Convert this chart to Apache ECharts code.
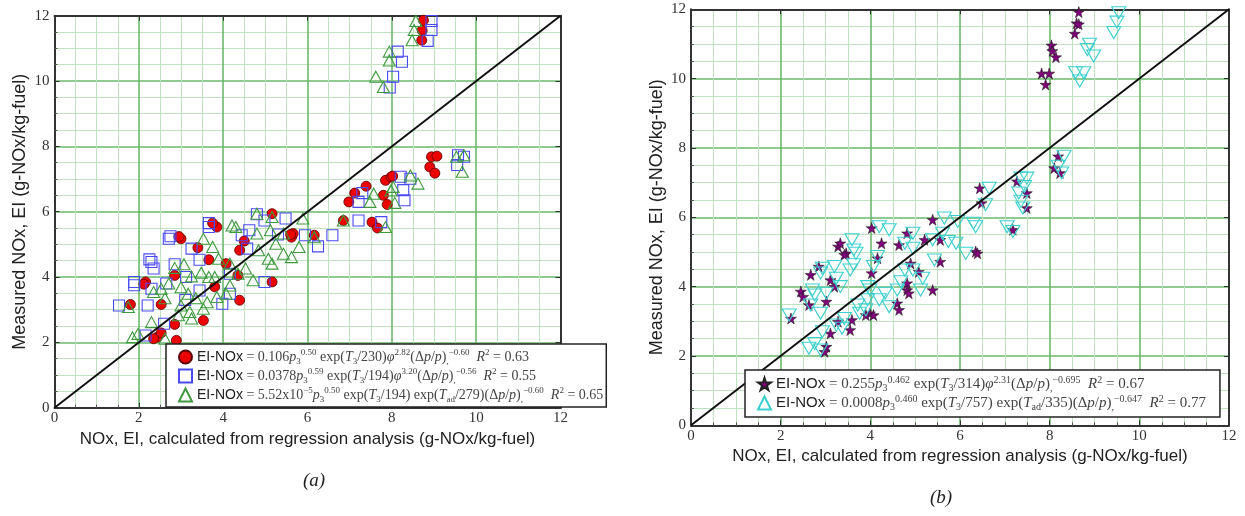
<!DOCTYPE html>
<html lang="en" style="height: 100%">
<head>
  <meta charset="utf-8">
</head>
<body style="height: 100%; margin: 0; background: #fff">
  <div id="container" style="width: 1245px; height: 516px"></div>

  <script type="text/javascript" src="https://cdn.jsdelivr.net/npm/echarts/dist/echarts.min.js"></script>
  <script type="text/javascript">
    // panel (a): measured vs regression EI-NOx, three fits
    const redCircles = [
      [8.75, 11.86], [8.71, 11.25], [8.72, 11.55], [8.94, 7.68], [9.07, 7.7], [8.9, 7.37], [9.02, 7.18],
      [7.85, 6.96], [7.98, 7.06], [8.02, 7.09], [7.39, 6.78], [7.12, 6.57], [6.98, 6.3], [7.8, 6.5],
      [7.89, 6.22], [7.53, 5.68], [7.66, 5.5], [6.85, 5.73], [5.16, 5.94], [5.62, 5.22], [5.66, 5.33],
      [6.16, 5.28], [4.39, 4.82], [3.85, 5.53], [3.75, 5.65], [3.0, 5.17], [2.95, 5.24], [3.66, 4.53],
      [4.07, 4.41], [4.35, 4.05], [5.16, 3.85], [4.39, 3.29], [2.85, 4.05], [2.16, 3.85], [2.12, 3.78],
      [1.8, 3.16], [2.53, 3.16], [2.85, 2.55], [3.53, 2.67], [2.44, 2.16], [2.53, 2.29], [2.89, 2.06],
      [2.35, 2.11], [3.8, 3.7], [3.4, 4.9], [5.6, 5.3], [4.5, 5.1]
    ];
    const blueSquares = [
      [8.94, 11.84], [8.94, 11.56], [8.85, 11.23], [8.14, 10.9], [8.24, 10.59], [8.03, 10.13], [7.95, 9.8],
      [9.57, 7.73], [9.71, 7.68], [9.55, 7.43], [8.21, 7.07], [8.44, 7.01], [8.27, 6.66], [8.3, 6.35],
      [7.3, 6.57], [7.21, 6.3], [7.21, 5.73], [7.75, 5.68], [6.59, 5.28], [6.25, 4.94], [5.94, 5.28],
      [5.48, 5.79], [4.8, 5.92], [4.62, 5.43], [4.44, 5.28], [4.57, 4.87], [4.98, 3.85], [3.66, 5.65],
      [3.66, 5.53], [2.71, 5.17], [2.75, 5.25], [3.25, 4.87], [3.44, 4.53], [2.3, 4.46], [2.35, 4.26],
      [2.25, 4.54], [1.89, 3.85], [1.89, 3.75], [1.53, 3.13], [2.21, 3.13], [2.6, 2.57], [2.16, 2.21],
      [4.16, 4.1], [2.85, 4.39], [3.12, 4.0], [2.3, 3.64], [3.44, 3.59], [3.98, 3.18], [4.16, 3.49],
      [4.98, 5.73], [5.3, 5.3], [2.65, 3.8], [3.1, 3.3]
    ];
    const greenTriangles = [
      [8.57, 11.84], [8.53, 11.56], [8.48, 11.25], [7.94, 10.9], [7.94, 10.63], [7.62, 10.13], [7.8, 9.82],
      [9.53, 7.68], [9.71, 7.73], [9.67, 7.22], [8.44, 7.11], [8.62, 6.86], [8.03, 6.76], [7.57, 6.55],
      [7.48, 6.3], [8.07, 6.27], [7.98, 6.65], [6.85, 5.73], [7.85, 5.53], [5.89, 5.79], [6.16, 5.22],
      [5.16, 5.84], [5.12, 5.43], [4.8, 5.94], [4.8, 5.33], [4.84, 4.82], [5.07, 4.56], [5.43, 4.71],
      [5.62, 4.61], [5.8, 4.92], [5.43, 5.33], [5.25, 5.02], [4.21, 5.58], [4.3, 5.53], [3.53, 5.17],
      [3.75, 4.92], [3.89, 4.56], [4.16, 4.41], [4.35, 4.1], [4.53, 4.26], [4.71, 3.9], [5.16, 4.41],
      [3.07, 4.39], [2.85, 4.28], [3.25, 4.02], [3.48, 4.13], [3.66, 4.0], [2.71, 3.8], [2.53, 3.64],
      [2.35, 3.54], [2.62, 3.35], [3.0, 3.69], [3.17, 3.49], [3.35, 3.35], [3.62, 3.23], [3.85, 3.39],
      [4.07, 3.49], [4.16, 3.74], [3.8, 4.0], [3.0, 3.13], [3.21, 2.93], [2.94, 2.83], [3.25, 2.73],
      [3.53, 3.03], [1.75, 3.08], [2.3, 2.62], [1.85, 2.16], [1.98, 2.26], [2.62, 2.11]
    ];

    // panel (b): two further fits
    const purpleStars = [
      [8.65, 11.92], [8.6, 11.6], [8.65, 11.57], [8.56, 11.3], [8.04, 10.96], [8.06, 10.8], [8.14, 10.62],
      [7.82, 10.15], [7.99, 10.15], [7.91, 9.83], [8.19, 7.76], [8.1, 7.42], [8.23, 7.28], [7.27, 7.04],
      [7.49, 6.7], [7.49, 6.27], [6.44, 6.84], [6.48, 6.41], [7.18, 5.64], [5.39, 5.93], [5.56, 5.35],
      [5.56, 4.72], [5.39, 3.9], [6.35, 5.01], [6.39, 4.96], [5.21, 5.35], [4.03, 5.69], [4.16, 4.82],
      [4.25, 5.25], [4.64, 5.2], [4.82, 5.54], [4.9, 4.67], [5.08, 4.43], [4.03, 4.39], [3.99, 3.23],
      [4.07, 3.18], [4.6, 3.52], [4.64, 3.33], [4.82, 3.9], [4.82, 4.1], [4.86, 3.81], [3.28, 5.16],
      [3.33, 5.25], [3.46, 4.96], [3.42, 4.92], [2.85, 4.58], [2.67, 4.34], [2.45, 3.86], [2.5, 3.71],
      [3.11, 4.19], [3.2, 4.0], [2.63, 3.47], [3.02, 3.57], [3.28, 2.99], [3.59, 3.04], [3.55, 2.75],
      [3.11, 2.65], [3.02, 2.27], [2.98, 2.12], [2.23, 3.08], [3.9, 3.18]
    ];
    const cyanTriangles = [
      [9.54, 11.9], [9.5, 11.63], [9.43, 11.33], [8.89, 10.99], [8.84, 10.84], [8.98, 10.65], [8.58, 10.17],
      [8.76, 10.17], [8.67, 9.93], [8.32, 7.76], [8.19, 7.47], [8.27, 7.28], [7.36, 7.13], [7.49, 7.13],
      [7.44, 6.89], [7.31, 6.7], [7.36, 6.46], [7.4, 6.27], [6.65, 6.84], [6.57, 6.36], [7.05, 5.73],
      [7.18, 5.59], [6.3, 5.83], [6.35, 5.73], [5.65, 5.98], [5.95, 5.88], [5.61, 5.54], [5.74, 5.3],
      [5.91, 5.25], [6.13, 4.96], [5.39, 5.35], [5.43, 4.77], [4.95, 5.54], [4.77, 5.25], [4.95, 5.11],
      [4.42, 5.64], [4.2, 5.73], [4.16, 4.87], [4.07, 4.58], [4.95, 4.48], [5.17, 4.24], [5.12, 3.9],
      [4.77, 4.48], [4.68, 4.14], [4.6, 3.9], [4.33, 3.81], [4.2, 3.62], [4.42, 3.42], [3.99, 3.9],
      [3.94, 3.62], [3.9, 3.33], [3.72, 3.47], [3.76, 3.23], [3.94, 4.0], [3.59, 5.35], [3.63, 5.06],
      [3.68, 4.96], [3.63, 4.63], [3.55, 4.48], [3.2, 4.58], [2.93, 4.53], [2.89, 4.39], [3.24, 4.24],
      [3.33, 4.0], [3.02, 3.81], [2.71, 3.9], [2.76, 3.76], [2.67, 3.47], [2.89, 3.23], [3.24, 2.89],
      [3.37, 2.8], [3.42, 3.08], [2.93, 2.7], [2.76, 2.36], [2.63, 2.22], [2.89, 2.17], [2.19, 3.18]
    ];
    const diagonal = [[0, 0], [12, 12]];
    const axisTicks = [0, 12, 2];

    const legendLabels = {
      a1: '{s|EI-NOx}{r| = 0.106}{it|p}{sb|3}{sp|0.50}{r| exp(}{it|T}{sb|3}{r|/230)}{it|φ}{sp|2.82}{r|(Δ}{it|p}{r|/}{it|p}{r|)}{sb|,}{sp|−0.60}{r|  }{it|R}{sp|2}{r| = 0.63}',
      a2: '{s|EI-NOx}{r| = 0.0378}{it|p}{sb|3}{sp|0.59}{r| exp(}{it|T}{sb|3}{r|/194)}{it|φ}{sp|3.20}{r|(Δ}{it|p}{r|/}{it|p}{r|)}{sb|,}{sp|−0.56}{r|  }{it|R}{sp|2}{r| = 0.55}',
      a3: '{s|EI-NOx}{r| = 5.52x10}{sp|−5}{it|p}{sb|3}{sp|0.50}{r| exp(}{it|T}{sb|3}{r|/194) exp(}{it|T}{sb|ad}{r|/279)(Δ}{it|p}{r|/}{it|p}{r|)}{sb|,}{sp|−0.60}{r|  }{it|R}{sp|2}{r| = 0.65}',
      b1: '{S|EI-NOx}{R| = 0.255}{I|p}{B|3}{P|0.462}{R| exp(}{I|T}{B|3}{R|/314)}{I|φ}{P|2.31}{R|(Δ}{I|p}{R|/}{I|p}{R|)}{B|,}{P|−0.695}{R|  }{I|R}{P|2}{R| = 0.67}',
      b2: '{S|EI-NOx}{R| = 0.0008}{I|p}{B|3}{P|0.460}{R| exp(}{I|T}{B|3}{R|/757) exp(}{I|T}{B|ad}{R|/335)(Δ}{I|p}{R|/}{I|p}{R|)}{B|,}{P|−0.647}{R|  }{I|R}{P|2}{R| = 0.77}'
    };

    const starPath = 'path://M50,0 L61,35 L98,35 L68,57 L79,91 L50,70 L21,91 L32,57 L2,35 L39,35 Z';
    const serif = 'Liberation Serif';
    const sans = 'Liberation Sans';

    const richText = {
      // left legend, a bit smaller
      s: { fontFamily: sans, fontSize: 14, color: '#222', lineHeight: 18, verticalAlign: 'middle' },
      r: { fontFamily: serif, fontSize: 14, color: '#444', lineHeight: 18, verticalAlign: 'middle' },
      it: { fontFamily: serif, fontSize: 14, fontStyle: 'italic', color: '#444', lineHeight: 18, verticalAlign: 'middle' },
      sp: { fontFamily: serif, fontSize: 9, color: '#444', lineHeight: 18, verticalAlign: 'top', padding: [0, 0, 7, 0] },
      sb: { fontFamily: serif, fontSize: 9, color: '#444', lineHeight: 18, verticalAlign: 'bottom', padding: [6, 0, 0, 0] },
      // right legend
      S: { fontFamily: sans, fontSize: 15, color: '#222', lineHeight: 18, verticalAlign: 'middle' },
      R: { fontFamily: serif, fontSize: 15, color: '#444', lineHeight: 18, verticalAlign: 'middle' },
      I: { fontFamily: serif, fontSize: 15, fontStyle: 'italic', color: '#444', lineHeight: 18, verticalAlign: 'middle' },
      P: { fontFamily: serif, fontSize: 10, color: '#444', lineHeight: 18, verticalAlign: 'top', padding: [0, 0, 7, 0] },
      B: { fontFamily: serif, fontSize: 10, color: '#444', lineHeight: 18, verticalAlign: 'bottom', padding: [6, 0, 0, 0] }
    };

    var dom = document.getElementById('container');
    var myChart = echarts.init(dom, null, { renderer: 'canvas' });

    const mainX = (gridIndex) => ({
      type: 'value',
      gridIndex,
      min: axisTicks[0],
      max: axisTicks[1],
      interval: axisTicks[2],
      name: 'NOx, EI, calculated from regression analysis (g-NOx/kg-fuel)',
      nameLocation: 'middle',
      nameGap: 14,
      nameTextStyle: { fontFamily: sans, fontSize: 17, color: '#222' },
      axisLine: { show: true, onZero: false, lineStyle: { color: '#333', width: 2 } },
      axisTick: { show: true, inside: true, length: 5, lineStyle: { color: '#333' } },
      minorTick: { show: true, splitNumber: 4, length: 3, lineStyle: { color: '#555' } },
      axisLabel: { fontFamily: serif, fontSize: 15, color: '#333', margin: 3 },
      splitLine: { show: true, lineStyle: { color: '#6cb86c', width: 1.6 } },
      minorSplitLine: { show: true, lineStyle: { color: '#bfe3bf', width: 1 } }
    });
    const mainY = (gridIndex) => ({
      type: 'value',
      gridIndex,
      min: axisTicks[0],
      max: axisTicks[1],
      interval: axisTicks[2],
      name: 'Measured NOx, EI (g-NOx/kg-fuel)',
      nameLocation: 'middle',
      nameRotate: 90,
      nameGap: 25,
      nameTextStyle: { fontFamily: sans, fontSize: 18, color: '#222' },
      axisLine: { show: true, onZero: false, lineStyle: { color: '#333', width: 2 } },
      axisTick: { show: true, inside: true, length: 5, lineStyle: { color: '#333' } },
      minorTick: { show: true, splitNumber: 4, length: 3, lineStyle: { color: '#555' } },
      axisLabel: { fontFamily: serif, fontSize: 15, color: '#333', margin: 5 },
      splitLine: { show: true, lineStyle: { color: '#6cb86c', width: 1.6 } },
      minorSplitLine: { show: true, lineStyle: { color: '#bfe3bf', width: 1 } }
    });
    // top / right frame edges
    const frame = (gridIndex, position) => ({
      type: 'value',
      gridIndex,
      position,
      min: axisTicks[0],
      max: axisTicks[1],
      interval: axisTicks[2],
      axisLine: { show: true, onZero: false, lineStyle: { color: '#333', width: 2 } },
      axisTick: { show: true, inside: true, length: 5, lineStyle: { color: '#333' } },
      axisLabel: { show: false },
      splitLine: { show: false }
    });

    const diagSeries = (idx) => ({
      type: 'line',
      xAxisIndex: idx,
      yAxisIndex: idx,
      data: diagonal,
      symbol: 'none',
      silent: true,
      z: 3,
      lineStyle: { color: '#111', width: 2 }
    });

    const legendBase = {
      orient: 'vertical',
      backgroundColor: '#fff',
      borderColor: '#222',
      borderWidth: 1.5,
      borderRadius: 0,
      itemWidth: 13,
      itemHeight: 13,
      itemGap: 1,
      z: 10,
      selectedMode: false,
      formatter: (name) => legendLabels[name],
      textStyle: { rich: richText }
    };

    var option = {
      animation: false,
      backgroundColor: '#fff',
      grid: [
        { left: 54.5, top: 15.7, width: 506, height: 392 },
        { left: 691, top: 9.3, width: 538, height: 416 }
      ],
      xAxis: [mainX(0), mainX(1), frame(0, 'top'), frame(1, 'top')],
      yAxis: [mainY(0), mainY(1), frame(0, 'right'), frame(1, 'right')],
      legend: [
        Object.assign({}, legendBase, {
          data: ['a1', 'a2', 'a3'],
          left: 166,
          top: 344,
          padding: [4, 3, 3, 12]
        }),
        Object.assign({}, legendBase, {
          data: ['b1', 'b2'],
          left: 745,
          top: 370,
          padding: [5, 14, 5, 12]
        })
      ],
      graphic: [
        { type: 'text', left: 303, top: 471, style: { text: '(a)', font: 'italic 19px "Liberation Serif"', fill: '#222' } },
        { type: 'text', left: 930, top: 488, style: { text: '(b)', font: 'italic 19px "Liberation Serif"', fill: '#222' } }
      ],
      series: [
        {
          name: 'a1', type: 'scatter', xAxisIndex: 0, yAxisIndex: 0, data: redCircles,
          symbol: 'circle', symbolSize: 10,
          itemStyle: { color: '#ee0000', borderColor: '#5a0000', borderWidth: 0.8, opacity: 1 }
        },
        {
          name: 'a2', type: 'scatter', xAxisIndex: 0, yAxisIndex: 0, data: blueSquares,
          symbol: 'rect', symbolSize: 11,
          itemStyle: { color: 'rgba(255,255,255,0)', borderColor: '#4a4af5', borderWidth: 1.1, opacity: 1 }
        },
        {
          name: 'a3', type: 'scatter', xAxisIndex: 0, yAxisIndex: 0, data: greenTriangles,
          symbol: 'triangle', symbolSize: [12, 11],
          itemStyle: { color: 'rgba(255,255,255,0)', borderColor: '#3f9a3f', borderWidth: 1.1, opacity: 1 }
        },
        diagSeries(0),
        {
          name: 'b1', type: 'scatter', xAxisIndex: 1, yAxisIndex: 1, data: purpleStars,
          symbol: starPath, symbolSize: 11,
          itemStyle: { color: '#80007a', borderColor: '#222', borderWidth: 0.6, opacity: 1 }
        },
        {
          name: 'b2', type: 'scatter', xAxisIndex: 1, yAxisIndex: 1, data: cyanTriangles,
          symbol: 'triangle', symbolRotate: 180, symbolSize: [14, 12],
          itemStyle: { color: 'rgba(255,255,255,0)', borderColor: '#3ccfcf', borderWidth: 1.1, opacity: 1 }
        },
        diagSeries(1)
      ]
    };

    myChart.setOption(option);
    window.addEventListener('resize', myChart.resize);
  </script>
</body>
</html>
